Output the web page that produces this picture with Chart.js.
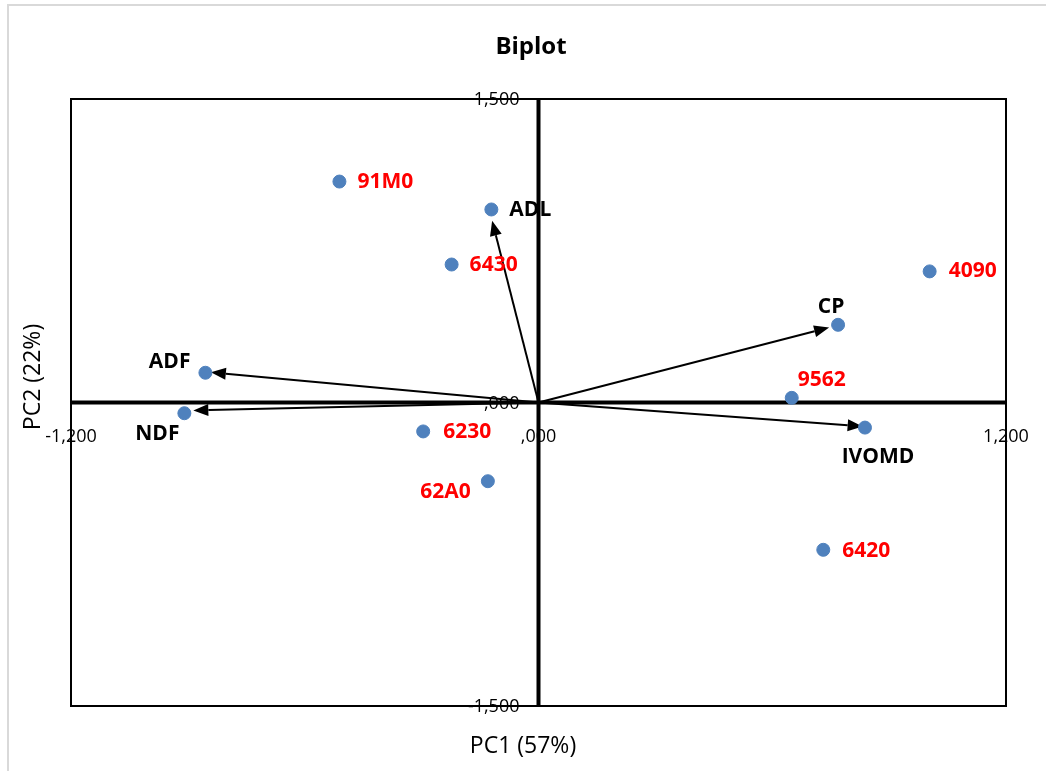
<!DOCTYPE html>
<html>
<head>
<meta charset="utf-8">
<script src="https://cdn.jsdelivr.net/npm/chart.js@4.4.1/dist/chart.umd.min.js"></script>
<style>
  html, body { margin: 0; padding: 0; background: #ffffff; }
  #wrap { width: 1046px; height: 771px; position: relative; }
</style>
</head>
<body>
<div id="wrap"><canvas id="c" width="1046" height="771"></canvas></div>
<script>
// ---- Data ----
const genotypeNames = ['91M0', '6430', '4090', '9562', '6230', '62A0', '6420'];
const genotypePC1   = [-0.511, -0.223, 1.004, 0.650, -0.296, -0.130, 0.731];
const genotypePC2   = [ 1.092,  0.682, 0.648, 0.023, -0.143, -0.389, -0.728];

const variableNames = ['ADL', 'CP', 'IVOMD', 'ADF', 'NDF'];
const variablePC1   = [-0.121, 0.769, 0.838, -0.855, -0.909];
const variablePC2   = [ 0.954, 0.384, -0.124, 0.147, -0.053];
// arrow tips (vector ends, slightly short of the variable points)
const arrowTipPC1   = [-0.119, 0.746, 0.832, -0.841, -0.886];
const arrowTipPC2   = [ 0.898, 0.371, -0.118, 0.149, -0.039];

const xTickValues = [-1.2, 0, 1.2];
const xTickLabels = ['-1,200', ',000', '1,200'];
const yTickValues = [1.5, 0, -1.5];
const yTickLabels = ['1,500', ',000', '-1,500'];

const chartTitle = 'Biplot';
const xTitle = 'PC1 (57%)';
const yTitle = 'PC2 (22%)';

// ---- Label placement (style, not data) ----
const genotypeLabelPlace = [
  {dx: 18, dy: 0, align: 'left'},   // 91M0
  {dx: 18, dy: 1, align: 'left'},   // 6430
  {dx: 19, dy: 0, align: 'left'},   // 4090
  {dx: 6, dy: -18, align: 'left'},  // 9562
  {dx: 20, dy: 1, align: 'left'},   // 6230
  {dx: -17, dy: 11, align: 'right'},// 62A0
  {dx: 19, dy: 1, align: 'left'}    // 6420
];
const variableLabelPlace = [
  {dx: 18, dy: 1, align: 'left'},    // ADL
  {dx: -7, dy: -18, align: 'center'},// CP
  {dx: 13, dy: 29, align: 'center'}, // IVOMD
  {dx: -15, dy: -11, align: 'right'},// ADF
  {dx: -27, dy: 21, align: 'center'} // NDF
];

const FONT = '"Open Sans", "DejaVu Sans", sans-serif';
const DOT = '#4f81bd';

function toPts(xs, ys) { return xs.map((x, i) => ({x: x, y: ys[i]})); }

const biplotPlugin = {
  id: 'biplot',
  beforeDatasetsDraw(chart) {
    const ctx = chart.ctx;
    const xs = chart.scales.x, ys = chart.scales.y;
    const L = xs.getPixelForValue(-1.2), R = xs.getPixelForValue(1.2);
    const T = ys.getPixelForValue(1.5), B = ys.getPixelForValue(-1.5);
    const ox = xs.getPixelForValue(0), oy = ys.getPixelForValue(0);
    ctx.save();
    // outer light frame
    ctx.strokeStyle = '#d9d9d9';
    ctx.lineWidth = 2;
    ctx.beginPath();
    ctx.moveTo(8, 800); ctx.lineTo(8, 5); ctx.lineTo(1100, 5);
    ctx.stroke();
    // plot box
    ctx.strokeStyle = '#000';
    ctx.lineWidth = 2;
    ctx.strokeRect(L, T, R - L, B - T);
    // center axes
    ctx.lineWidth = 4;
    ctx.beginPath();
    ctx.moveTo(L, oy); ctx.lineTo(R, oy);
    ctx.moveTo(ox, T); ctx.lineTo(ox, B);
    ctx.stroke();
    // arrows
    ctx.lineWidth = 2;
    ctx.fillStyle = '#000';
    for (let i = 0; i < arrowTipPC1.length; i++) {
      const tx = xs.getPixelForValue(arrowTipPC1[i]);
      const ty = ys.getPixelForValue(arrowTipPC2[i]);
      const ang = Math.atan2(ty - oy, tx - ox);
      const hl = 15, hw = 6;
      const bx = tx - hl * Math.cos(ang), by = ty - hl * Math.sin(ang);
      ctx.beginPath();
      ctx.moveTo(ox, oy); ctx.lineTo(bx, by);
      ctx.stroke();
      ctx.beginPath();
      ctx.moveTo(tx, ty);
      ctx.lineTo(bx + hw * Math.sin(ang), by - hw * Math.cos(ang));
      ctx.lineTo(bx - hw * Math.sin(ang), by + hw * Math.cos(ang));
      ctx.closePath();
      ctx.fill();
    }
    ctx.restore();
  },
  afterDatasetsDraw(chart) {
    const ctx = chart.ctx;
    const xs = chart.scales.x, ys = chart.scales.y;
    const ox = xs.getPixelForValue(0), oy = ys.getPixelForValue(0);
    ctx.save();
    ctx.fillStyle = '#000';
    // tick labels
    ctx.font = '18px ' + FONT;
    ctx.textBaseline = 'middle';
    ctx.textAlign = 'right';
    yTickValues.forEach((v, i) => {
      ctx.fillText(yTickLabels[i], ox - 19, ys.getPixelForValue(v) + 1);
    });
    ctx.textAlign = 'center';
    xTickValues.forEach((v, i) => {
      ctx.fillText(xTickLabels[i], xs.getPixelForValue(v), oy + 34);
    });
    // titles
    ctx.font = 'bold 24px ' + FONT;
    ctx.fillText(chartTitle, 531, 47);
    ctx.font = '23px ' + FONT;
    ctx.fillText(xTitle, 523, 746);
    ctx.save();
    ctx.translate(33, 377);
    ctx.rotate(-Math.PI / 2);
    ctx.fillText(yTitle, 0, 0);
    ctx.restore();
    // point labels
    ctx.font = 'bold 21px ' + FONT;
    ctx.fillStyle = '#ff0000';
    genotypeNames.forEach((n, i) => {
      const p = genotypeLabelPlace[i];
      ctx.textAlign = p.align;
      ctx.fillText(n, xs.getPixelForValue(genotypePC1[i]) + p.dx, ys.getPixelForValue(genotypePC2[i]) + p.dy);
    });
    ctx.fillStyle = '#000';
    variableNames.forEach((n, i) => {
      const p = variableLabelPlace[i];
      ctx.textAlign = p.align;
      ctx.fillText(n, xs.getPixelForValue(variablePC1[i]) + p.dx, ys.getPixelForValue(variablePC2[i]) + p.dy);
    });
    ctx.restore();
  }
};

new Chart(document.getElementById('c'), {
  type: 'scatter',
  data: {
    datasets: [
      { label: 'Genotypes', data: toPts(genotypePC1, genotypePC2),
        backgroundColor: DOT, borderColor: DOT, pointRadius: 6.5, pointHoverRadius: 6.5 },
      { label: 'Variables', data: toPts(variablePC1, variablePC2),
        backgroundColor: DOT, borderColor: DOT, pointRadius: 6.5, pointHoverRadius: 6.5 }
    ]
  },
  options: {
    responsive: false,
    animation: false,
    events: [],
    layout: { padding: { left: 71, right: 40, top: 99, bottom: 65 } },
    plugins: { legend: { display: false }, title: { display: false }, tooltip: { enabled: false } },
    scales: {
      x: { type: 'linear', min: -1.2, max: 1.2, display: false },
      y: { type: 'linear', min: -1.5, max: 1.5, display: false }
    }
  },
  plugins: [biplotPlugin]
});
</script>
</body>
</html>
